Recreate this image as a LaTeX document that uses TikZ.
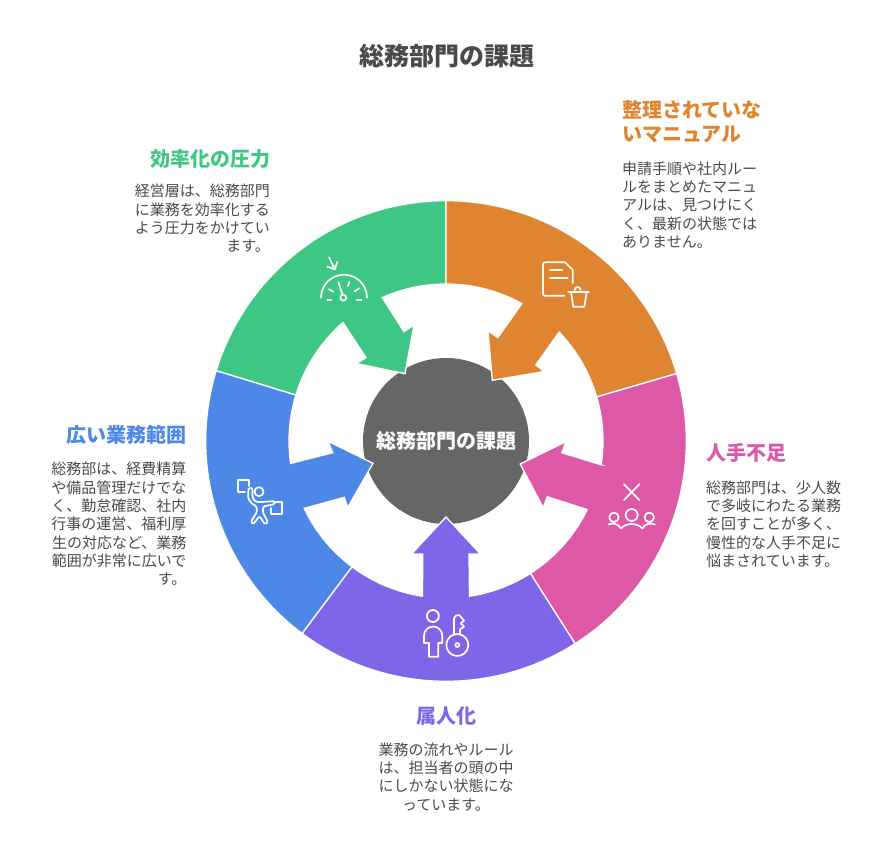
\documentclass[tikz,border=0pt]{standalone}
\usepackage{fontspec}
\setmainfont{Noto Sans CJK JP}
\usetikzlibrary{calc}
\definecolor{cgreen}{HTML}{3EC685}
\definecolor{corange}{HTML}{DF8431}
\definecolor{cpink}{HTML}{DE58A8}
\definecolor{cpurple}{HTML}{7F66E9}
\definecolor{cblue}{HTML}{4E88E6}
\definecolor{cgray}{HTML}{666666}
\definecolor{ctext}{HTML}{4A4A4A}
\tikzset{
  seg/.style={draw=white,line width=1.3pt,line join=miter},
  icon/.style={draw=white,line width=1.7pt,line cap=round,line join=round},
  head/.style={inner sep=0pt,font=\fontsize{20}{24}\selectfont\bfseries},
  body/.style={inner sep=0pt,text=ctext,font=\fontsize{15}{18.3}\selectfont},
}
\begin{document}
\begin{tikzpicture}[x=1pt,y=1pt,yscale=-1]
\useasboundingbox (0,0) rectangle (885,856);
\coordinate (c) at (446,441);
\node[circle,fill=cgray,minimum size=166pt,inner sep=0pt] (hub) at (c) {};
% green
\path[seg,fill=cgreen] ($(c)+(-90:240.3)$) arc[start angle=-90,end angle=-163,radius=240.3]
  -- ($(c)+(-163:157)$) arc[start angle=-163,end angle=-131,radius=157]
  -- (366,357.7) -- (356.3,363.5) -- (405,373.7) -- (414,325) -- (404,331.7) -- (382.3,297.7)
  -- ($(c)+(-114:157)$) arc[start angle=-114,end angle=-90,radius=157] -- cycle;
% orange
\path[seg,fill=corange] ($(c)+(-90:240.3)$) arc[start angle=-90,end angle=-16.3,radius=240.3]
  -- ($(c)+(-16.3:157)$) arc[start angle=-16.3,end angle=-43.9,radius=157]
  -- (535.7,365) -- (544.3,371.5) -- (492.3,380.3) -- (488,330.7) -- (497.7,337.7) -- (521.7,304)
  -- ($(c)+(-61.1:157)$) arc[start angle=-61.1,end angle=-90,radius=157] -- cycle;
% pink
\path[seg,fill=cpink] ($(c)+(-16.3:240.3)$) arc[start angle=-16.3,end angle=57.5,radius=240.3]
  -- ($(c)+(57.5:157)$) arc[start angle=57.5,end angle=25.9,radius=157]
  -- (547.3,496.7) -- (543.2,507.7) -- (520.2,464) -- (566,441.7) -- (561.7,452.7) -- (601.7,465)
  -- ($(c)+(8.8:157)$) arc[start angle=8.8,end angle=-16.3,radius=157] -- cycle;
% purple
\path[seg,fill=cpurple] ($(c)+(57.5:240.3)$) arc[start angle=57.5,end angle=126.8,radius=240.3]
  -- ($(c)+(126.8:157)$) arc[start angle=126.8,end angle=98.6,radius=157]
  -- (422.7,554) -- (411.5,554) -- (446,517) -- (480.5,554) -- (469,554)
  -- ($(c)+(81.4:157)$) arc[start angle=81.4,end angle=57.5,radius=157] -- cycle;
% blue
\path[seg,fill=cblue] ($(c)+(126.8:240.3)$) arc[start angle=126.8,end angle=197,radius=240.3]
  -- ($(c)+(197:157)$) arc[start angle=197,end angle=171.8,radius=157]
  -- (332.8,452.7) -- (328,441.3) -- (373,463.3) -- (347.5,507.7) -- (344.3,497.3) -- (304.3,508.3)
  -- ($(c)+(154.6:157)$) arc[start angle=154.6,end angle=126.8,radius=157] -- cycle;
% gauge icon
\draw[icon] (321,297.7) arc[start angle=180,end angle=360,radius=23];
\draw[icon] (343.3,297.7) circle[radius=3];
\draw[icon] (342.5,294.6) -- (338.3,282.3);
\draw[icon] (327.3,300) -- (331,300);
\draw[icon] (329,289.3) -- (333.3,291.7);
\draw[icon] (349.3,282) -- (348,286);
\draw[icon] (359,288.3) -- (354.7,291.3);
\draw[icon] (357,300) -- (361.7,300);
\draw[icon] (329,257.3) -- (334.3,268.3);
\draw[icon] (327.3,266.7) -- (335,269.3) -- (337.3,261.7);
% document + trash icon
\draw[icon] (572.7,283.3) -- (572.7,270) -- (565,262.3) -- (545,262.3) [rounded corners=2pt] -- (543,262.3) -- (543,295.7) -- (564.3,295.7);
\draw[icon] (550,270) -- (562.3,270);
\draw[icon] (550,277.7) -- (567.7,277.7);
\draw[icon] (568.3,292.3) -- (589,292.3);
\draw[icon] (571,292.3) -- (573.3,306.7) -- (584.3,306.7) -- (586.7,292.3);
\draw[icon] (574.7,290) arc[start angle=180,end angle=360,radius=3];
% person with flags icon
\draw[icon] (259,491.7) circle[radius=4.5];
\draw[icon,rounded corners=1.5pt] (248.5,488) -- (248,498) -- (252,504) -- (256.5,506) -- (257,512) -- (251,521.5) -- (253,524.5) -- (259.5,516) -- (265,524.5) -- (268,522) -- (263,513) -- (263,506.5) -- (275,504) -- (275,501) -- (262,502) -- (256,502) -- (252.5,498) -- (252.5,488) -- cycle;
\draw[icon] (245,492.3) -- (238.3,492.3) -- (238.3,480) -- (249.3,480) -- (249.3,486);
\draw[icon] (271,508) -- (271,514) -- (281.7,514) -- (281.7,502) -- (276,502);
% person and key icon
\draw[icon] (432.9,616) circle[radius=6];
\draw[icon] (424,643) -- (424,635.7) arc[start angle=180,end angle=360,radius=9.15] -- (442.3,643) -- (438.3,643) -- (438.3,656.7) -- (429,656.7) -- (429,643) -- cycle;
\draw[icon] (457.3,645) circle[radius=2];
\draw[icon] (454,634.5) -- (454,618.3) -- (456,615.5) -- (459.3,615) -- (464,620.7) -- (460.7,623.3) -- (464,626.7) -- (460,629.3) -- (460,634.5);
\draw[icon] (454,634.5) arc[start angle=-107.5,end angle=252.5,radius=11];
% X and people icon
\draw[icon] (624,484.3) -- (639.3,500);
\draw[icon] (639.3,484.3) -- (624,500);
\draw[icon] (631.7,515) circle[radius=6];
\draw[icon] (614,517.3) circle[radius=4.7];
\draw[icon] (649.3,517.3) circle[radius=4.7];
\draw[icon] (608.5,524.5) .. controls (613,522.5) and (618,523.5) .. (621,528.5) .. controls (626,522.5) and (637,522.5) .. (642.5,528.5) .. controls (645,523.5) and (650,522.5) .. (655,524.5);
% texts
\node[inner sep=0pt,text=ctext,font=\fontsize{25}{30}\selectfont\bfseries] (title) at (446.5,56.5) {総務部門の課題};
\node[head,text=white] (hubl) at (c) {総務部門の課題};
\node[head,text=cgreen,anchor=east] (h1) at (271,159) {効率化の圧力};
\node[body,anchor=north east,align=right] (b1) at (270,184) {経営層は、総務部門\\に業務を効率化する\\よう圧力をかけてい\\ます。};
\node[head,text=corange,anchor=north west,align=left] (h2) at (622,100) {整理されていな\\いマニュアル};
\node[body,anchor=north west,align=left] (b2) at (622,161.5) {申請手順や社内ルー\\ルをまとめたマニュ\\アルは、見つけにく\\く、最新の状態では\\ありません。};
\node[head,text=cpink,anchor=west] (h3) at (706,453) {人手不足};
\node[body,anchor=north west,align=left] (b3) at (706,480.5) {総務部門は、少人数\\で多岐にわたる業務\\を回すことが多く、\\慢性的な人手不足に\\悩まされています。};
\node[head,text=cpurple] (h4) at (446,716.5) {属人化};
\node[body,anchor=north,align=center] (b4) at (446,742.5) {業務の流れやルール\\は、担当者の頭の中\\にしかない状態にな\\っています。};
\node[head,text=cblue,anchor=east] (h5) at (187,435) {広い業務範囲};
\node[body,anchor=north east,align=right] (b5) at (186.5,462) {総務部は、経費精算\\や備品管理だけでな\\く、勤怠確認、社内\\行事の運営、福利厚\\生の対応など、業務\\範囲が非常に広いで\\す。};
\end{tikzpicture}
\end{document}
